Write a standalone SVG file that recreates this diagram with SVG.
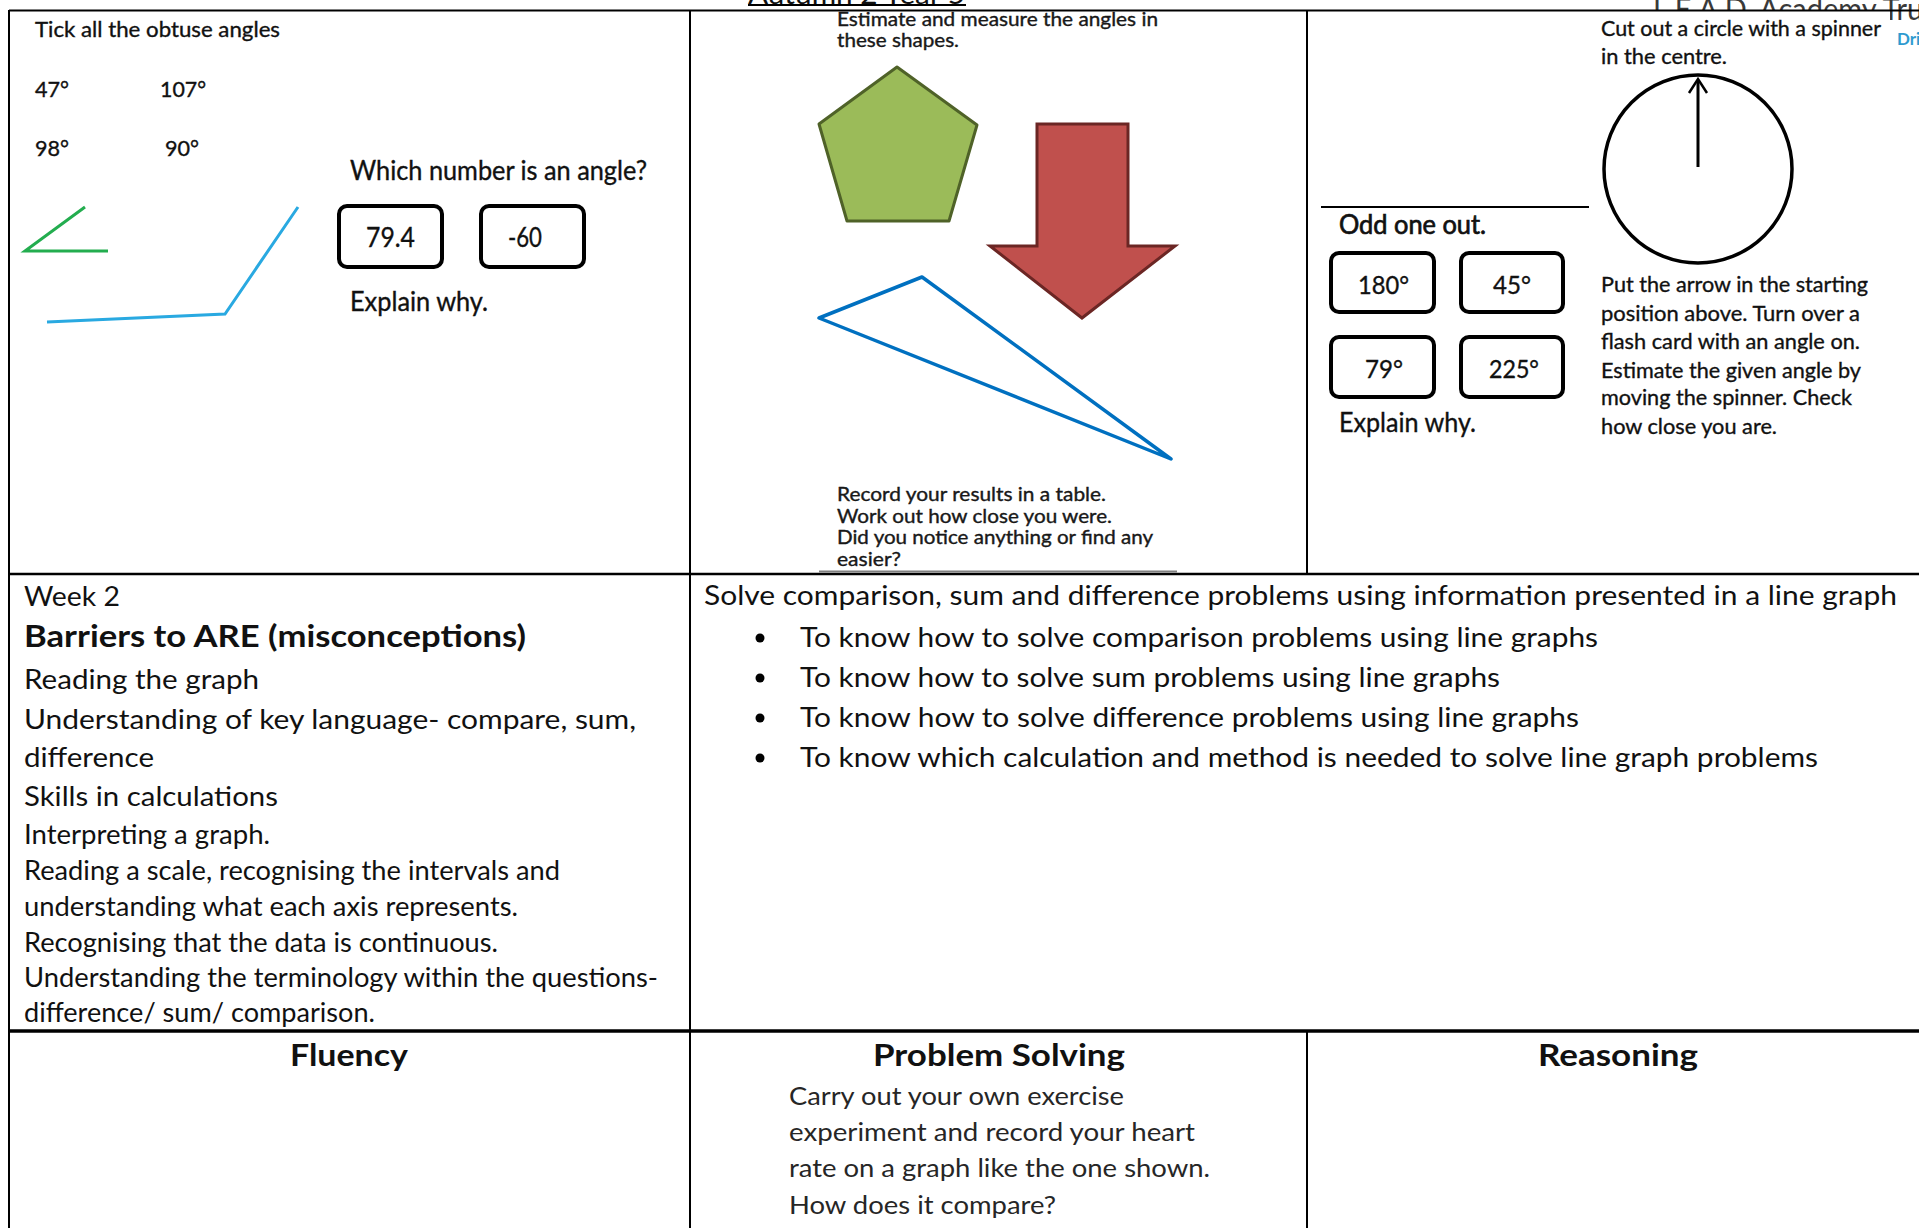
<svg xmlns="http://www.w3.org/2000/svg" width="1919" height="1228" viewBox="0 0 1919 1228">
<style>
text{font-family:Lato,"Liberation Sans",sans-serif;fill:#111}
.top{stroke:#111;stroke-width:0.35}
.s18{font-size:18.5px;fill:#1b1b1b}
.s21{font-size:21px}
.s22{font-size:22px}
.s25{font-size:25px}
.s26{font-size:26px}
.s27{font-size:27px}
.b30{font-size:30px;font-weight:bold}
.ps{font-size:25px;fill:#262626}
.grid{stroke:#000;stroke-width:2;fill:none}
.box{fill:#fff;stroke:#000;stroke-width:4}
</style>
<rect x="0" y="0" width="1919" height="1228" fill="#fff"/>
<g id="header">
<text x="748" y="3.5" class="s26" textLength="217" lengthAdjust="spacingAndGlyphs">Autumn 2 Year 5</text>
<line x1="748" y1="5" x2="966" y2="5" stroke="#000" stroke-width="2"/>
<text x="1653" y="20" style="font-size:30px;fill:#3a3a3a" textLength="293" lengthAdjust="spacingAndGlyphs">L.E.A.D. Academy Trust</text>
<rect x="1308" y="11" width="582" height="50" fill="#fff"/>
</g>
<g id="table" class="grid">
<line x1="9" y1="10.5" x2="1919" y2="10.5"/>
<line x1="9" y1="10" x2="9" y2="1228"/>
<line x1="690" y1="10" x2="690" y2="1228"/>
<line x1="1307" y1="10" x2="1307" y2="574"/>
<line x1="1307" y1="1031" x2="1307" y2="1228"/>
<line x1="9" y1="574" x2="1919" y2="574" stroke-width="2.5"/>
<line x1="9" y1="1031" x2="1919" y2="1031" stroke-width="3.5"/>
</g>
<text x="1897" y="45" style="font-size:17px;font-weight:bold;fill:#2e9bd0">Dri</text>
<g id="cell-obtuse" class="top">
<text x="35" y="37" class="s21" textLength="245" lengthAdjust="spacingAndGlyphs">Tick all the obtuse angles</text>
<text x="35" y="97" class="s21" textLength="34" lengthAdjust="spacingAndGlyphs">47°</text>
<text x="160" y="97" class="s21" textLength="46" lengthAdjust="spacingAndGlyphs">107°</text>
<text x="35" y="156" class="s21" textLength="34" lengthAdjust="spacingAndGlyphs">98°</text>
<text x="165" y="156" class="s21" textLength="34" lengthAdjust="spacingAndGlyphs">90°</text>
<polyline points="85,207 25,251 108,251" fill="none" stroke="#23ad4f" stroke-width="3"/>
<polyline points="298,207 225,314 47,322" fill="none" stroke="#29a9e1" stroke-width="3"/>
<text x="350" y="180" class="s26" textLength="297" lengthAdjust="spacingAndGlyphs">Which number is an angle?</text>
<rect x="339" y="206" width="103" height="61" rx="8" class="box"/>
<rect x="481" y="206" width="103" height="61" rx="8" class="box"/>
<text x="366" y="247" class="s26" textLength="49" lengthAdjust="spacingAndGlyphs">79.4</text>
<text x="508" y="247" class="s26" textLength="34" lengthAdjust="spacingAndGlyphs">-60</text>
<text x="350" y="311" class="s26" textLength="138" lengthAdjust="spacingAndGlyphs">Explain why.</text>
</g>
<g id="cell-shapes">
<text x="837" y="26" class="s18 top" textLength="321" lengthAdjust="spacingAndGlyphs">Estimate and measure the angles in</text>
<text x="837" y="47" class="s18 top" textLength="122" lengthAdjust="spacingAndGlyphs">these shapes.</text>
<polygon points="897,67 977,125 949,221 847,221 819,124" fill="#9bbb59" stroke="#4f6228" stroke-width="3" stroke-linejoin="round"/>
<polygon points="1037,124 1128,124 1128,246 1175,246 1082,318 990,246 1037,246" fill="#c0504d" stroke="#6b2624" stroke-width="3"/>
<polygon points="819,318 922,277 1171,459" fill="none" stroke="#0070c0" stroke-width="3.5" stroke-linejoin="round"/>
<text x="837" y="501" class="s18 top" textLength="269" lengthAdjust="spacingAndGlyphs">Record your results in a table.</text>
<text x="837" y="523" class="s18 top" textLength="275" lengthAdjust="spacingAndGlyphs">Work out how close you were.</text>
<text x="837" y="544" class="s18 top" textLength="316" lengthAdjust="spacingAndGlyphs">Did you notice anything or find any</text>
<text x="837" y="566" class="s18 top" textLength="64" lengthAdjust="spacingAndGlyphs">easier?</text>
<line x1="819" y1="571.5" x2="1177" y2="571.5" stroke="#7f7f7f" stroke-width="2"/>
</g>
<g id="cell-spinner">
<text x="1601" y="36" class="s21 top" textLength="280" lengthAdjust="spacingAndGlyphs">Cut out a circle with a spinner</text>
<text x="1601" y="64" class="s21 top" textLength="126" lengthAdjust="spacingAndGlyphs">in the centre.</text>
<circle cx="1698" cy="169" r="94" fill="none" stroke="#000" stroke-width="3.5"/>
<line x1="1698" y1="167" x2="1698" y2="80" stroke="#000" stroke-width="3"/>
<polyline points="1689,93 1698,79 1707,93" fill="none" stroke="#000" stroke-width="2.5"/>
<line x1="1321" y1="207" x2="1589" y2="207" stroke="#000" stroke-width="2"/>
<text x="1339" y="234" class="s26 top" style="stroke-width:0.7" textLength="147" lengthAdjust="spacingAndGlyphs">Odd one out.</text>
<rect x="1331" y="253" width="103" height="59" rx="8" class="box"/>
<rect x="1461" y="253" width="102" height="59" rx="8" class="box"/>
<rect x="1331" y="337" width="103" height="60" rx="8" class="box"/>
<rect x="1461" y="337" width="102" height="60" rx="8" class="box"/>
<text x="1358" y="294" class="s25 top" textLength="51" lengthAdjust="spacingAndGlyphs">180°</text>
<text x="1493" y="294" class="s25 top" textLength="38" lengthAdjust="spacingAndGlyphs">45°</text>
<text x="1365" y="378" class="s25 top" textLength="38" lengthAdjust="spacingAndGlyphs">79°</text>
<text x="1489" y="378" class="s25 top" textLength="50" lengthAdjust="spacingAndGlyphs">225°</text>
<text x="1339" y="432" class="s26 top" textLength="137" lengthAdjust="spacingAndGlyphs">Explain why.</text>
<text x="1601" y="292" class="s22 top" textLength="267" lengthAdjust="spacingAndGlyphs">Put the arrow in the starting</text>
<text x="1601" y="321" class="s22 top" textLength="259" lengthAdjust="spacingAndGlyphs">position above. Turn over a</text>
<text x="1601" y="349" class="s22 top" textLength="259" lengthAdjust="spacingAndGlyphs">flash card with an angle on.</text>
<text x="1601" y="378" class="s22 top" textLength="260" lengthAdjust="spacingAndGlyphs">Estimate the given angle by</text>
<text x="1601" y="405" class="s22 top" textLength="251" lengthAdjust="spacingAndGlyphs">moving the spinner. Check</text>
<text x="1601" y="434" class="s22 top" textLength="176" lengthAdjust="spacingAndGlyphs">how close you are.</text>
</g>
<g id="cell-barriers">
<text x="24" y="606" class="s27" textLength="96" lengthAdjust="spacingAndGlyphs">Week 2</text>
<text x="24" y="647" class="b30" textLength="502" lengthAdjust="spacingAndGlyphs">Barriers to ARE (misconceptions)</text>
<text x="24" y="689" class="s27" textLength="235" lengthAdjust="spacingAndGlyphs">Reading the graph</text>
<text x="24" y="729" class="s27" textLength="612" lengthAdjust="spacingAndGlyphs">Understanding of key language- compare, sum,</text>
<text x="24" y="767" class="s27" textLength="130" lengthAdjust="spacingAndGlyphs">difference</text>
<text x="24" y="806" class="s27" textLength="254" lengthAdjust="spacingAndGlyphs">Skills in calculations</text>
<text x="24" y="844" class="s27" textLength="246" lengthAdjust="spacingAndGlyphs">Interpreting a graph.</text>
<text x="24" y="880" class="s27" textLength="536" lengthAdjust="spacingAndGlyphs">Reading a scale, recognising the intervals and</text>
<text x="24" y="916" class="s27" textLength="494" lengthAdjust="spacingAndGlyphs">understanding what each axis represents.</text>
<text x="24" y="952" class="s27" textLength="474" lengthAdjust="spacingAndGlyphs">Recognising that the data is continuous.</text>
<text x="24" y="987" class="s27" textLength="634" lengthAdjust="spacingAndGlyphs">Understanding the terminology within the questions-</text>
<text x="24" y="1022" class="s27" textLength="351" lengthAdjust="spacingAndGlyphs">difference/ sum/ comparison.</text>
</g>
<g id="cell-objectives">
<text x="704" y="605" class="s27" textLength="1193" lengthAdjust="spacingAndGlyphs">Solve comparison, sum and difference problems using information presented in a line graph</text>
<circle cx="760" cy="638" r="4.5" fill="#000"/>
<circle cx="760" cy="678" r="4.5" fill="#000"/>
<circle cx="760" cy="718" r="4.5" fill="#000"/>
<circle cx="760" cy="758" r="4.5" fill="#000"/>
<text x="800" y="647" class="s27" textLength="798" lengthAdjust="spacingAndGlyphs">To know how to solve comparison problems using line graphs</text>
<text x="800" y="687" class="s27" textLength="700" lengthAdjust="spacingAndGlyphs">To know how to solve sum problems using line graphs</text>
<text x="800" y="727" class="s27" textLength="779" lengthAdjust="spacingAndGlyphs">To know how to solve difference problems using line graphs</text>
<text x="800" y="767" class="s27" textLength="1018" lengthAdjust="spacingAndGlyphs">To know which calculation and method is needed to solve line graph problems</text>
</g>
<g id="cell-fluency">
<text x="349" y="1066" class="b30" text-anchor="middle" textLength="118" lengthAdjust="spacingAndGlyphs">Fluency</text>
</g>
<g id="cell-problem-solving">
<text x="999" y="1066" class="b30" text-anchor="middle" textLength="252" lengthAdjust="spacingAndGlyphs">Problem Solving</text>
<text x="789" y="1105" class="ps" textLength="335" lengthAdjust="spacingAndGlyphs">Carry out your own exercise</text>
<text x="789" y="1141" class="ps" textLength="406" lengthAdjust="spacingAndGlyphs">experiment and record your heart</text>
<text x="789" y="1177" class="ps" textLength="421" lengthAdjust="spacingAndGlyphs">rate on a graph like the one shown.</text>
<text x="789" y="1214" class="ps" textLength="267" lengthAdjust="spacingAndGlyphs">How does it compare?</text>
</g>
<g id="cell-reasoning">
<text x="1618" y="1066" class="b30" text-anchor="middle" textLength="160" lengthAdjust="spacingAndGlyphs">Reasoning</text>
</g>
</svg>
